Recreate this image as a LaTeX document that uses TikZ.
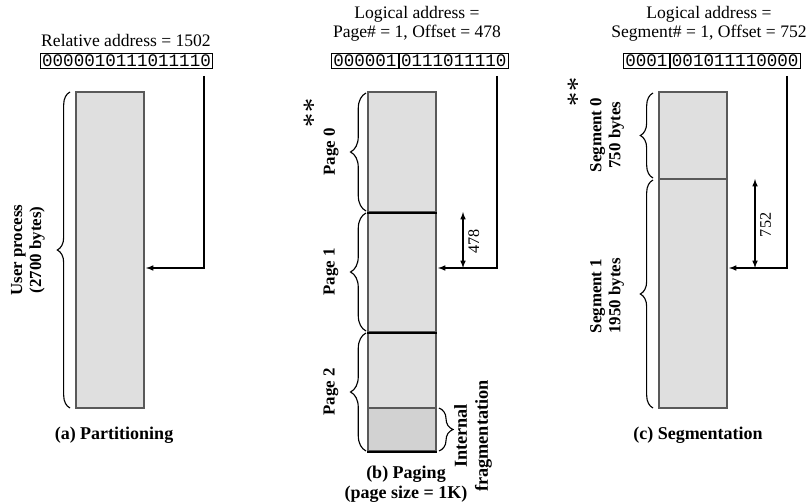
\documentclass[tikz,border=0pt]{standalone}
\usepackage{fontspec}
\setmainfont{Liberation Serif}
\setmonofont{Liberation Mono}
\usetikzlibrary{arrows, positioning, fit, decorations.pathreplacing}

\begin{document}
\begin{tikzpicture}[
    x=0.025cm, y=-0.025cm,
    head/.style={font=\fontsize{12.5}{13.5}\selectfont, align=center},
    caption/.style={font=\fontsize{12.8}{14}\selectfont\bfseries, align=center},
    lbl/.style={font=\fontsize{12}{13.5}\selectfont\bfseries, align=center, rotate=90},
    num/.style={font=\fontsize{11.5}{12}\selectfont, rotate=90},
    stars/.style={font=\fontsize{20}{20}\selectfont, rotate=90, inner sep=0pt},
    bits/.style={draw, thick, font=\fontsize{12.5}{13}\selectfont\ttfamily, inner xsep=1.2pt, inner ysep=1.5pt, text height=7.6pt, text depth=0pt},
    mem/.style={draw=black!65, line width=0.9pt, fill=gray!25, inner sep=0pt},
    frag/.style={draw=black!65, line width=0.9pt, fill=gray!35, inner sep=0pt},
    brc/.style={decorate, decoration={brace, amplitude=#1}, thick},
    ptr/.style={-latex, thick},
    offs/.style={latex-latex, thick}
]
    \useasboundingbox (0,0) rectangle (808,504);

    % (a) Partitioning
    \node[head] (ahead) at (126,40) {Relative address = 1502};
    \node[bits] (abits) at (126.5,61) {0000010111011110};
    \node[mem, fit={(76,92) (144,408)}] (aproc) {};
    \draw[brc=9pt] (70,408) -- (70,92);
    \node[lbl] (alabel) at (28,250) {User process\\(2700 bytes)};
    \coordinate (atop) at (204,76);
    \coordinate (ahit) at (146,268);
    \draw[ptr] (atop) |- (ahit);
    \node[caption] (acap) at (114,435) {(a) Partitioning};

    % (b) Paging
    \node[head] (bhead) at (417,24) {Logical address =\\Page\# = 1, Offset = 478};
    \node[bits, anchor=west] (bpage) at (331,61) {000001};
    \node[bits, right=0pt of bpage] (boff) {0111011110};
    \node[mem, fit={(368,92) (436,212)}] (page0) {};
    \node[mem, fit={(368,212) (436,332)}] (page1) {};
    \node[mem, fit={(368,332) (436,408)}] (page2) {};
    \node[frag, fit={(368,408) (436,451)}] (bfrag) {};
    \draw[line width=1.3pt] (page0.south west) -- (page0.south east);
    \draw[line width=1.3pt] (page1.south west) -- (page1.south east);
    \draw[line width=1.3pt] (bfrag.south west) -- (bfrag.south east);
    \draw[brc=11pt] (366,211) -- (366,93);
    \draw[brc=11pt] (366,331) -- (366,213);
    \draw[brc=11pt] (366,451) -- (366,333);
    \node[lbl] (blabel0) at (331,152) {Page 0};
    \node[lbl] (blabel1) at (331,272) {Page 1};
    \node[lbl] (blabel2) at (331,392) {Page 2};
    \node[stars] (bstars) at (313,113) {**};
    \draw[brc=10pt] (439,408) -- (439,451);
    \node[lbl, font=\fontsize{13}{15}\selectfont\bfseries] (bfraglbl) at (473,436) {Internal\\fragmentation};
    \coordinate (btop) at (497,76);
    \coordinate (bhit) at (438,268);
    \draw[ptr] (btop) |- (bhit);
    \coordinate (boffa) at (463,212);
    \coordinate (boffb) at (463,268);
    \draw[offs] (boffa) -- (boffb) node[midway, num, below=1pt] {478};
    \node[caption] (bcap) at (406,484) {(b) Paging\\(page size = 1K)};

    % (c) Segmentation
    \node[head] (chead) at (709,24) {Logical address =\\Segment\# = 1, Offset = 752};
    \node[bits, anchor=west] (cseg) at (623,61) {0001};
    \node[bits, right=0pt of cseg] (coff) {001011110000};
    \node[mem, fit={(659,92) (727,179)}] (seg0) {};
    \node[mem, fit={(659,179) (727,408)}] (seg1) {};
    \draw[brc=9pt] (653,178) -- (653,93);
    \draw[brc=9pt] (653,408) -- (653,180);
    \node[lbl] (clabel0) at (607,135) {Segment 0\\750 bytes};
    \node[lbl] (clabel1) at (607,296) {Segment 1\\1950 bytes};
    \node[stars] (cstars) at (577,92) {**};
    \coordinate (ctop) at (787,76);
    \coordinate (chit) at (729,268);
    \draw[ptr] (ctop) |- (chit);
    \coordinate (coffa) at (755,179);
    \coordinate (coffb) at (755,268);
    \draw[offs] (coffa) -- (coffb) node[midway, num, below=1pt] {752};
    \node[caption] (ccap) at (698,435) {(c) Segmentation};
\end{tikzpicture}
\end{document}
